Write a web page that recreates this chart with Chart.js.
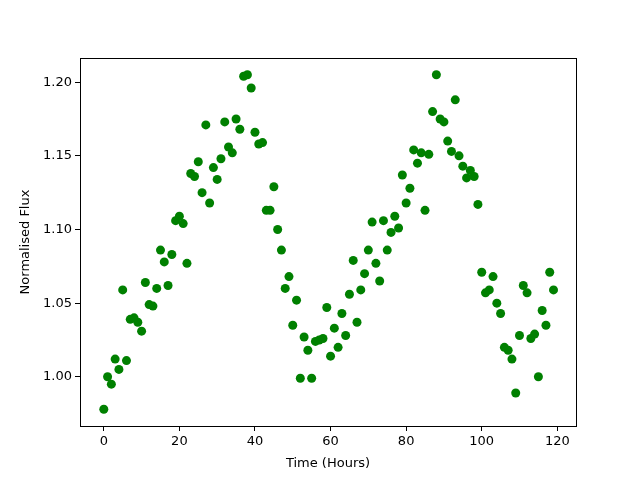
<!DOCTYPE html>
<html>
<head>
<meta charset="utf-8">
<script src="https://cdn.jsdelivr.net/npm/chart.js@4"></script>
<style>
  html, body { margin: 0; padding: 0; background: #fff; }
  #wrap { width: 640px; height: 480px; }
</style>
</head>
<body>
<div id="wrap"><canvas id="fluxChart" width="640" height="480"></canvas></div>
<script>
// Hours of observation and the flux read at each one
const hours = [];
for (let h = 0; h < 120; h++) hours.push(h);

const flux = [
    0.978, 1.000, 0.995, 1.012, 1.005, 1.059, 1.011, 1.039, 1.040, 1.037,
    1.031, 1.064, 1.049, 1.048, 1.060, 1.086, 1.078, 1.062, 1.083, 1.106,
    1.109, 1.104, 1.077, 1.138, 1.136, 1.146, 1.125, 1.171, 1.118, 1.142,
    1.134, 1.148, 1.173, 1.156, 1.152, 1.175, 1.168, 1.204, 1.205, 1.196,
    1.166, 1.158, 1.159, 1.113, 1.113, 1.129, 1.100, 1.086, 1.060, 1.068,
    1.035, 1.052, 0.999, 1.027, 1.018, 0.999, 1.024, 1.025, 1.026, 1.047,
    1.014, 1.033, 1.020, 1.043, 1.028, 1.056, 1.079, 1.037, 1.059, 1.070,
    1.086, 1.105, 1.077, 1.065, 1.106, 1.086, 1.098, 1.109, 1.101, 1.137,
    1.118, 1.128, 1.154, 1.145, 1.152, 1.113, 1.151, 1.180, 1.205, 1.175,
    1.173, 1.160, 1.153, 1.188, 1.150, 1.143, 1.135, 1.140, 1.136, 1.117,
    1.071, 1.057, 1.059, 1.068, 1.050, 1.043, 1.020, 1.018, 1.012, 0.989,
    1.028, 1.062, 1.057, 1.026, 1.029, 1.000, 1.045, 1.035, 1.071, 1.059
];

const xTicks = [0, 20, 40, 60, 80, 100, 120];
const yTicks = [1.00, 1.05, 1.10, 1.15, 1.20];

const points = hours.map((h, i) => ({ x: h, y: flux[i] }));

// box round the plot area, like matplotlib's spines
const frame = {
    id: 'frame',
    afterDatasetsDraw(chart) {
        const a = chart.chartArea;
        const ctx = chart.ctx;
        ctx.save();
        ctx.strokeStyle = '#000';
        ctx.lineWidth = 1;
        ctx.strokeRect(Math.round(a.left) + 0.5, Math.round(a.top) + 0.5,
            Math.round(a.right - a.left), Math.round(a.bottom - a.top));
        ctx.restore();
    }
};

Chart.defaults.font.family = '"DejaVu Sans", sans-serif';
Chart.defaults.font.size = 13;
Chart.defaults.color = '#000';

const ctxFlux = document.getElementById('fluxChart').getContext('2d');
const fluxChart = new Chart(ctxFlux, {
    type: 'scatter',
    data: {
        datasets: [{
            data: points,
            backgroundColor: '#008000',
            borderColor: '#008000',
            borderWidth: 0,
            pointRadius: 4.5,
            pointHoverRadius: 4.5
        }]
    },
    options: {
        responsive: false,
        animation: false,
        layout: { padding: { top: 58, right: 64, left: 18, bottom: 9 } },
        plugins: {
            legend: { display: false },
            tooltip: { enabled: false }
        },
        scales: {
            x: {
                type: 'linear',
                min: -6.3,
                max: 124.95,
                afterBuildTicks: axis => { axis.ticks = xTicks.map(v => ({ value: v })); },
                afterFit: axis => { axis.height = 45; },
                ticks: { padding: 3, maxRotation: 0 },
                grid: { drawOnChartArea: false, drawTicks: true, tickLength: 5, color: '#000' },
                border: { display: false },
                title: { display: true, text: 'Time (Hours)', padding: { top: 2, bottom: 0 } }
            },
            y: {
                type: 'linear',
                min: 0.9666,
                max: 1.2164,
                afterBuildTicks: axis => { axis.ticks = yTicks.map(v => ({ value: v })); },
                afterFit: axis => { axis.width = 62; },
                ticks: { padding: 3, callback: v => v.toFixed(2) },
                grid: { drawOnChartArea: false, drawTicks: true, tickLength: 5, color: '#000' },
                border: { display: false },
                title: { display: true, text: 'Normalised Flux', padding: { top: 0, bottom: 4 } }
            }
        }
    },
    plugins: [frame]
});
</script>
</body>
</html>
